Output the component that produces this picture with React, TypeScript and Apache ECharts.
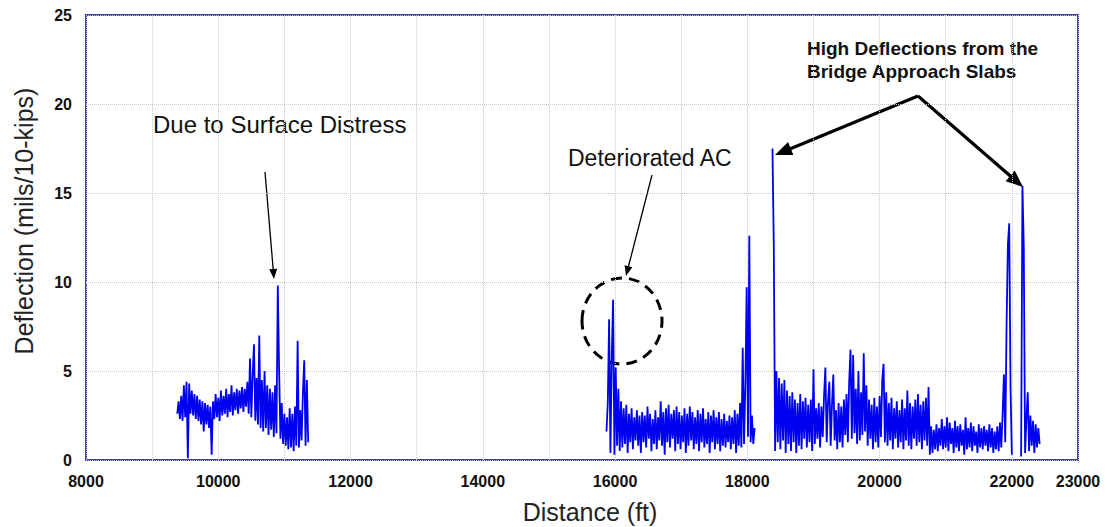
import React, { useEffect, useRef } from "react";
import * as echarts from "echarts";

// Distance sampling (ft) and deflection readings (mils/10-kips)
const sampleStep = 20;
const seg1Start = 9380;
const seg1Values = [
  2.6, 3.3, 2.3, 3.6, 2.2, 4.2, 2.4, 4.4, 0.1, 4.3, 2.6, 3.9, 2.5, 3.7, 2.3, 3.6, 2.2, 3.4, 2.0, 3.3,
  1.6, 3.2, 2.0, 3.1, 1.8, 3.0, 0.3, 3.3, 2.3, 3.7, 2.4, 3.5, 2.2, 3.9, 2.5, 3.6, 2.6, 4.0, 2.4, 3.7,
  2.7, 4.2, 2.5, 3.8, 2.8, 4.0, 2.6, 3.9, 2.9, 4.1, 2.7, 4.0, 3.0, 4.4, 2.6, 5.7, 2.4, 4.8, 6.5, 2.2,
  4.6, 2.0, 7.0, 1.8, 4.5, 1.6, 5.0, 1.8, 4.2, 1.4, 4.0, 1.7, 3.8, 1.3, 4.2, 1.5, 9.8, 5.1, 1.2, 3.2,
  0.9, 2.6, 0.8, 2.4, 0.6, 2.9, 0.7, 2.6, 0.5, 3.0, 0.8, 6.7, 0.7, 2.8, 1.1, 3.8, 5.6, 0.8, 4.5, 1.0,
];
const seg2Start = 15870;
const seg2Values = [
  1.6, 3.2, 7.9, 0.4, 5.8, 9.0, 0.3, 5.2, 0.8, 4.0, 0.5, 3.3, 0.7, 2.9, 0.9, 3.1, 0.4, 2.6, 1.0, 2.9,
  0.6, 2.4, 1.1, 2.8, 0.8, 2.5, 0.4, 2.7, 1.0, 2.5, 0.7, 3.0, 1.2, 2.6, 0.5, 2.3, 0.9, 2.8, 0.6, 2.4,
  1.1, 3.3, 0.8, 2.7, 0.3, 2.9, 1.0, 3.1, 0.7, 2.6, 1.2, 2.8, 0.5, 3.0, 0.9, 2.7, 0.6, 2.5, 1.0, 2.9,
  0.4, 2.6, 0.8, 3.0, 1.1, 2.7, 0.6, 2.4, 0.9, 2.8, 0.5, 2.6, 1.0, 2.9, 0.7, 2.3, 0.9, 2.7, 0.4, 2.5,
  1.0, 2.8, 0.6, 2.4, 0.9, 2.7, 0.5, 2.3, 0.8, 2.6, 0.7, 2.2, 1.0, 2.5, 0.6, 2.4, 0.9, 2.8, 0.4, 2.6,
  0.8, 3.2, 0.7, 6.3, 0.9, 4.2, 9.7, 1.3, 12.6, 1.0, 2.5, 0.9, 1.8,
];
const seg3Start = 18380;
const seg3Values: (number | null)[] = [
  17.5, 12.1, 0.5, 5.0, 1.0, 4.6, 0.6, 4.3, 1.1, 4.5, 0.4, 3.9, 0.9, 3.6, 0.5, 3.8, 1.0, 3.4, 0.4, 3.2,
  0.8, 3.7, 0.6, 3.3, 1.2, 3.5, 0.7, 3.1, 1.0, 3.4, 0.5, 5.1, 0.9, 2.9, 1.2, 3.2, 0.7, 3.0, 1.3, 3.6,
  5.2, 1.0, 3.3, 4.4, 0.8, 3.1, 4.8, 1.1, 2.8, 0.6, 3.2, 1.0, 3.0, 0.7, 3.4, 1.4, 3.7, 1.0, 4.4, 6.2,
  1.2, 5.9, 1.5, 4.0, 0.9, 5.0, 1.1, 3.8, 1.4, 6.0, 1.6, 4.2, 0.8, 3.4, 1.2, 3.1, 0.6, 3.5, 1.0, 3.0,
  0.7, 3.6, 1.3, 4.5, 5.4, 1.0, 3.8, 0.8, 3.2, 1.1, 3.5, 0.6, 2.9, 1.2, 3.3, 0.7, 2.8, 1.0, 3.4, 0.6,
  2.9, 1.1, 3.9, 0.8, 3.2, 0.6, 3.0, 1.2, 3.4, 0.8, 3.7, 1.0, 3.1, 0.6, 3.3, 1.1, 3.5, 0.8, 4.1, 0.3,
  1.9, 0.4, 1.7, 0.6, 2.0, 0.5, 1.8, 0.8, 2.3, 0.6, 1.9, 0.7, 2.4, 0.5, 2.1, 0.9, 1.8, 0.4, 2.2, 0.7,
  1.9, 0.5, 2.0, 0.8, 1.7, 0.3, 2.4, 0.6, 1.8, 0.7, 2.1, 0.5, 1.9, 0.8, 1.6, 0.4, 2.0, 0.7, 1.8, 0.6,
  1.9, 0.8, 1.7, 0.5, 2.0, 0.7, 1.8, 0.4, 1.6, 0.6, 1.9, 0.5, 2.1, 0.7, 2.6, 4.8, 1.0, 7.6, 12.1, 13.3,
  4.0, 0.3, null, null, null, null, null, null, 0.2, 15.4, 12.0, 0.4, 2.3, 3.8, 0.5, 2.5, 0.8, 2.2, 0.4, 2.0,
  0.7, 1.8, 0.9,
];

const xTickLabels = [8000, 10000, 12000, 14000, 16000, 18000, 20000, 22000, 23000];
const yTickLabels = [0, 5, 10, 15, 20, 25];

const FONT = '"Liberation Sans", Arial, sans-serif';

function toPairs(start: number, vals: (number | null)[]) {
  return vals.map((v, i) => [start + i * sampleStep, v]);
}

function arrow(x1: number, y1: number, x2: number, y2: number, w: number, hl: number, hw: number) {
  const dx = x2 - x1;
  const dy = y2 - y1;
  const len = Math.sqrt(dx * dx + dy * dy);
  const ux = dx / len;
  const uy = dy / len;
  const bx = x2 - ux * hl;
  const by = y2 - uy * hl;
  const px = -uy * hw / 2;
  const py = ux * hw / 2;
  return [
    {
      type: "line",
      shape: { x1, y1, x2: bx + ux * 1, y2: by + uy * 1 },
      style: { stroke: "#000", lineWidth: w },
      silent: true,
    },
    {
      type: "polygon",
      shape: { points: [[x2, y2], [bx + px, by + py], [bx - px, by - py]] },
      style: { fill: "#000" },
      silent: true,
    },
  ];
}

export default function App() {
  const ref = useRef<HTMLDivElement>(null);
  useEffect(() => {
    if (!ref.current) return;
    const chart = echarts.init(ref.current, null, { renderer: "svg" });
    const lineStyle = { color: "#0000f0", width: 1.8 };
    chart.setOption({
      animation: false,
      backgroundColor: "#ffffff",
      grid: {
        left: 86,
        right: 29,
        top: 15,
        bottom: 67,
        show: true,
        borderColor: "#3d3d99",
        borderWidth: 2,
        backgroundColor: "transparent",
      },
      xAxis: {
        type: "value",
        min: 8000,
        max: 23000,
        interval: 1000,
        axisLine: { show: false },
        axisTick: { show: false },
        axisLabel: {
          margin: 13,
          color: "#111",
          fontFamily: FONT,
          fontWeight: "bold",
          fontSize: 16,
          showMinLabel: true,
          showMaxLabel: true,
          formatter: (v: number) => (xTickLabels.indexOf(v) >= 0 ? String(v) : ""),
        },
        splitLine: { show: true, lineStyle: { color: "#c8c8c8", type: "dotted", width: 1 } },
      },
      yAxis: {
        type: "value",
        min: 0,
        max: 25,
        interval: 5,
        axisLine: { show: false },
        axisTick: { show: false },
        axisLabel: {
          margin: 14,
          color: "#111",
          fontFamily: FONT,
          fontWeight: "bold",
          fontSize: 16,
          formatter: (v: number) => (yTickLabels.indexOf(v) >= 0 ? String(v) : ""),
        },
        splitLine: { show: true, lineStyle: { color: "#c8c8c8", type: "dotted", width: 1 } },
      },
      series: [
        { type: "line", data: toPairs(seg1Start, seg1Values), showSymbol: false, lineStyle, connectNulls: false },
        { type: "line", data: toPairs(seg2Start, seg2Values), showSymbol: false, lineStyle, connectNulls: false },
        { type: "line", data: toPairs(seg3Start, seg3Values), showSymbol: false, lineStyle, connectNulls: false },
      ],
      graphic: [
        {
          type: "text",
          x: 24,
          y: 221,
          rotation: Math.PI / 2,
          style: { text: "Deflection (mils/10-kips)", fill: "#222", fontSize: 25, fontFamily: FONT, align: "center", verticalAlign: "middle" },
        },
        {
          type: "text",
          x: 590,
          y: 512,
          style: { text: "Distance (ft)", fill: "#222", fontSize: 25, fontFamily: FONT, align: "center", verticalAlign: "middle" },
        },
        {
          type: "text",
          x: 153,
          y: 124,
          style: { text: "Due to Surface Distress", fill: "#111", fontSize: 24, fontFamily: FONT, align: "left", verticalAlign: "middle" },
        },
        {
          type: "text",
          x: 568,
          y: 158,
          style: { text: "Deteriorated AC", fill: "#111", fontSize: 23, fontFamily: FONT, align: "left", verticalAlign: "middle" },
        },
        {
          type: "text",
          x: 807,
          y: 48,
          style: { text: "High Deflections from the", fill: "#111", fontSize: 19, fontWeight: "bold", fontFamily: FONT, align: "left", verticalAlign: "middle" },
        },
        {
          type: "text",
          x: 807,
          y: 71,
          style: { text: "Bridge Approach Slabs", fill: "#111", fontSize: 19, fontWeight: "bold", fontFamily: FONT, align: "left", verticalAlign: "middle" },
        },
        ...arrow(265, 172, 274, 279, 1.3, 10, 8),
        ...arrow(652, 175, 626, 276, 1.3, 10, 8),
        ...arrow(918, 96, 775, 155, 3.2, 17, 14),
        ...arrow(918, 96, 1023, 187, 3.2, 17, 14),
        {
          type: "ellipse",
          shape: { cx: 622, cy: 321, rx: 40, ry: 43 },
          style: { fill: "none", stroke: "#000", lineWidth: 3, lineDash: [11, 7] },
          silent: true,
        },
      ],
    });
    return () => chart.dispose();
  }, []);
  return (
    <div
      ref={ref}
      style={{ position: "fixed", left: 0, top: 0, width: 1107, height: 527, background: "#fff" }}
    />
  );
}
